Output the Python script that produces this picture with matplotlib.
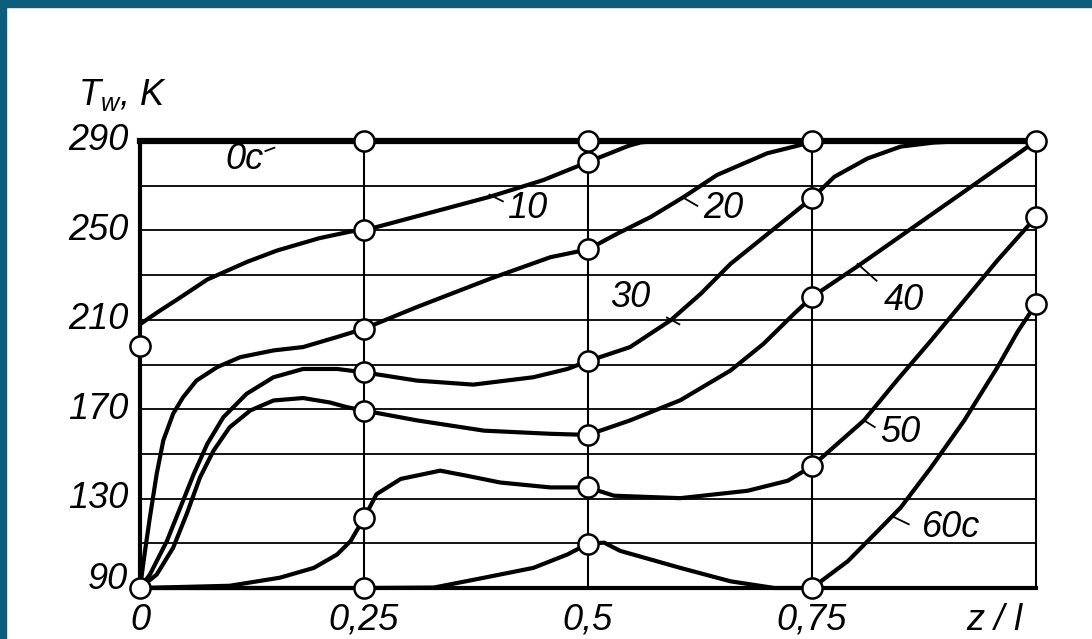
import matplotlib
matplotlib.use("Agg")
import matplotlib.pyplot as plt
from matplotlib.patches import Rectangle

# Curves: z/l and wall temperature T_w (K)
z_10 = [0.0, 0.02, 0.045, 0.075, 0.12, 0.153, 0.2, 0.235, 0.25, 0.32, 0.39, 0.45,
        0.5, 0.525, 0.545, 0.559, 0.58]
t_10 = [208, 213.5, 220, 228, 236, 241, 246.5, 249.5, 250, 257.5, 265, 272.5,
        280.6, 284.6, 287.8, 289.4, 290]

z_20 = [0.0, 0.0056, 0.011, 0.0186, 0.026, 0.037, 0.048, 0.063, 0.086, 0.112, 0.149,
        0.182, 0.22, 0.25, 0.309, 0.391, 0.458, 0.5, 0.533, 0.57, 0.607, 0.644,
        0.7, 0.737, 0.75]
t_20 = [90, 106.6, 121.5, 141, 156, 168, 175.3, 182.8, 188.8, 193.3, 196.3,
        197.8, 202.3, 206, 215.7, 228.4, 238, 241.5, 248.6, 256, 265, 274.8,
        284.5, 288.2, 290]

z_30 = [0.0, 0.011, 0.030, 0.045, 0.060, 0.075, 0.093, 0.119, 0.149, 0.182, 0.22,
        0.25, 0.309, 0.372, 0.439, 0.477, 0.5, 0.547, 0.592, 0.626, 0.659, 0.75,
        0.775, 0.812, 0.849, 0.886, 0.92]
t_30 = [90, 96, 111, 126, 141, 154.4, 166.4, 176.9, 184.3, 188, 188,
        186.5, 182.8, 181, 184.3, 188, 191.5, 197.8, 209.7, 221.7, 235, 264.4,
        274, 282.2, 287.5, 289.3, 290]

z_40 = [0.0, 0.0186, 0.037, 0.052, 0.067, 0.082, 0.1, 0.123, 0.149, 0.182, 0.212,
        0.231, 0.25, 0.309, 0.384, 0.458, 0.5, 0.547, 0.603, 0.659, 0.696, 0.73,
        0.75, 0.801, 0.931, 1.0]
t_40 = [90, 96, 108, 123, 139.5, 151.4, 161.9, 169.4, 173.9, 175, 173,
        170.9, 169.4, 165, 160.4, 159, 158.5, 165, 174, 187.3, 199.3, 212.7,
        220.2, 234, 270.5, 290]

z_50 = [0.0, 0.1, 0.156, 0.194, 0.22, 0.235, 0.25, 0.264, 0.291, 0.335, 0.365,
        0.402, 0.458, 0.5, 0.529, 0.603, 0.678, 0.723, 0.75, 0.808, 0.845, 0.883,
        0.92, 0.957, 1.0]
t_50 = [90, 91, 94.6, 99, 105, 111, 121.2, 132, 138.8, 142.5, 140.2,
        137.2, 135, 135, 131.3, 130.2, 133.5, 138, 144.5, 165, 183, 200.8,
        218.7, 236.6, 256]

z_60 = [0.0, 0.25, 0.328, 0.384, 0.439, 0.477, 0.5, 0.518, 0.536, 0.603, 0.659,
        0.708, 0.75, 0.79, 0.827, 0.849, 0.883, 0.92, 0.957, 0.98, 1.0]
t_60 = [90, 90, 90.2, 94.6, 99, 105, 109.8, 110.3, 106.6, 99, 93,
        90, 90, 102, 117, 126, 144, 165, 188.8, 205, 217]

z_0 = [0.0, 1.0]
t_0 = [290, 290]

# measured points (circles)
pt_z = [0, 0, 0.25, 0.5, 0.75, 1.0, 0.25, 0.5, 0.25, 0.5, 0.25, 0.5, 0.75,
        0.25, 0.5, 0.75, 0.25, 0.5, 0.75, 1.0, 0.25, 0.5, 0.75, 1.0]
pt_t = [90, 198.5, 290, 290, 290, 290, 250, 280.6, 206, 241.5, 186.5, 191.5, 264.4,
        169.4, 158.5, 220.2, 121.2, 135, 144.5, 256, 90, 109.8, 90, 217]

# curve labels
lab_txt = ["0c", "10", "20", "30", "40", "50", "60c"]
lab_z = [0.117, 0.432, 0.651, 0.547, 0.852, 0.849, 0.905]
lab_t = [281.5, 260, 260, 220, 218.7, 159.5, 117]

y_ticks = [90, 130, 170, 210, 250, 290]
x_ticks = [0, 0.25, 0.5, 0.75]
x_ticklabels = ["0", "0,25", "0,5", "0,75"]

plt.rcParams["font.family"] = ["Liberation Sans", "DejaVu Sans"]
plt.rcParams["mathtext.fontset"] = "custom"
plt.rcParams["mathtext.it"] = "Liberation Sans:italic"
plt.rcParams["mathtext.rm"] = "Liberation Sans:italic"

fig = plt.figure(figsize=(10.92, 6.39), dpi=100)
fig.patch.set_facecolor("white")
teal = "#0d5e7c"
fig.patches.append(Rectangle((0, 1 - 7 / 639), 1, 7 / 639, transform=fig.transFigure,
                             color=teal, zorder=-1))
fig.patches.append(Rectangle((0, 0), 6 / 1092, 1, transform=fig.transFigure,
                             color=teal, zorder=-1))

ax = fig.add_axes([140 / 1092, 1 - 588 / 639, 896 / 1092, 447 / 639])
ax.set_xlim(0, 1)
ax.set_ylim(90, 290)

for s in ax.spines.values():
    s.set_linewidth(1.5)
ax.spines["left"].set_linewidth(3)
ax.spines["bottom"].set_linewidth(3)

# grid
ax.set_yticks(y_ticks)
ax.set_yticks([110, 150, 190, 230, 270], minor=True)
ax.set_xticks(x_ticks)
ax.grid(True, which="both", axis="y", color="black", lw=1.3)
ax.grid(True, which="major", axis="x", color="black", lw=1.5)
ax.tick_params(which="both", length=0)
ax.set_yticklabels([])
ax.set_xticklabels([])

lw = 3
for zz, tt in [(z_10, t_10), (z_20, t_20), (z_30, t_30),
               (z_40, t_40), (z_50, t_50), (z_60, t_60)]:
    ax.plot(zz, tt, color="black", lw=lw, solid_capstyle="round",
            solid_joinstyle="round", zorder=3, clip_on=False)
ax.plot(z_0, t_0, color="black", lw=4.5, zorder=3, clip_on=False)

ax.plot(pt_z, pt_t, "o", ms=14.5, mfc="white", mec="black", mew=1.8,
        zorder=5, clip_on=False)

fs = 26
for txt, zl, tl in zip(lab_txt, lab_z, lab_t):
    ax.text(zl, tl, txt, fontsize=fs, style="italic", ha="center", va="center",
            zorder=6)

# short leader ticks from curves to labels
leaders = [((0.14, 285.5), (0.15, 287)), ((0.39, 266), (0.405, 263)),
           ((0.607, 264.5), (0.622, 261)), ((0.588, 211), (0.602, 208)),
           ((0.801, 235), (0.822, 227.5)), ((0.808, 165), (0.82, 162)),
           ((0.84, 122), (0.858, 118.5))]
for (a, b) in leaders:
    ax.plot([a[0], b[0]], [a[1], b[1]], color="black", lw=1.3, zorder=4)

# tick labels
for v in y_ticks:
    yy = v + 4 if v == 90 else v
    ax.text(-0.013, yy, str(v), fontsize=fs, style="italic", ha="right",
            va="center", clip_on=False)
for v, s in zip(x_ticks, x_ticklabels):
    ax.text(v, 83.5, s, fontsize=fs, style="italic", ha="center", va="top",
            clip_on=False)
ax.text(0.953, 83.5, "z / l", fontsize=fs, style="italic", ha="center", va="top",
        clip_on=False)

fig.text(78 / 1092, 1 - 95 / 639, r"$T_w$, K", fontsize=fs, style="italic",
         ha="left", va="center")

fig.savefig("out.png", dpi=100, facecolor=fig.get_facecolor())
